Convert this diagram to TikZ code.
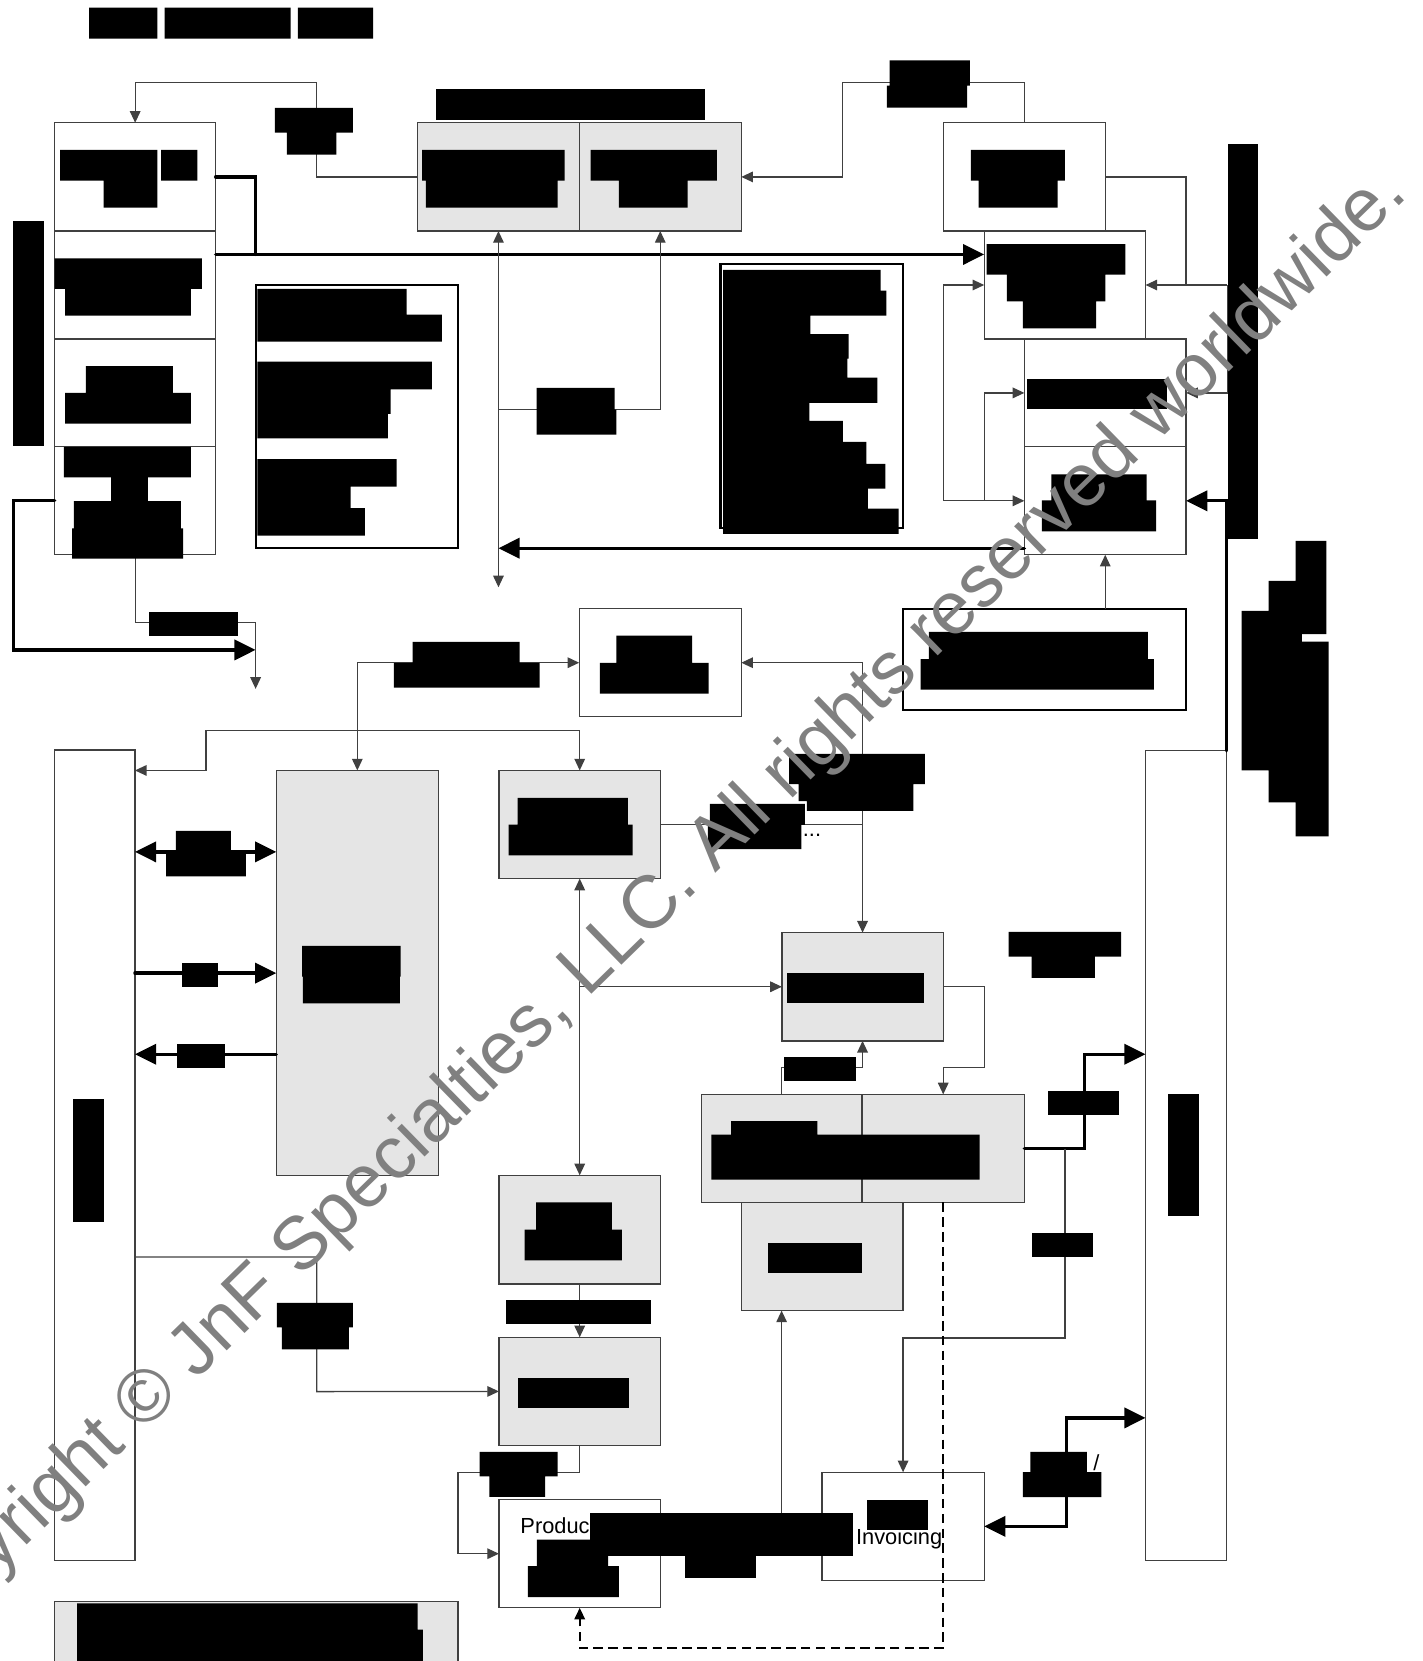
\documentclass[tikz,border=0pt]{standalone}
\usepackage{fontspec}
\setmainfont{Liberation Sans}
\usetikzlibrary{arrows.meta, fit}

\tikzset{
  box/.style={draw=black!75, line width=0.6pt, inner sep=0pt, outer sep=0pt},
  greybox/.style={box, fill=black!10},
  framed/.style={box, draw=black, line width=1pt},
  redact/.style={fill=black},
  wire/.style={draw=black!75, line width=0.6pt},
  link/.style={wire, -{Triangle[length=5.5pt,width=5pt]}},
  link2/.style={wire, {Triangle[length=5.5pt,width=5pt]}-{Triangle[length=5.5pt,width=5pt]}},
  dashlink/.style={draw=black, line width=0.9pt, dash pattern=on 4.5pt off 2.5pt, -{Triangle[length=5.5pt,width=5pt]}},
  heavyline/.style={draw=black, line width=1.6pt, line cap=round},
  heavy/.style={heavyline, -{Triangle[length=10pt,width=9.5pt]}},
  heavy2/.style={heavyline, {Triangle[length=10pt,width=9.5pt]}-{Triangle[length=10pt,width=9.5pt]}},
  lbl/.style={inner sep=0pt, font=\fontsize{10.3pt}{12pt}\selectfont},
  watermark/.style={inner sep=0pt, text=black!50, font=\fontsize{35.2pt}{42pt}\selectfont}
}

\begin{document}
\begin{tikzpicture}[x=0.5pt, y=-0.5pt]
  \useasboundingbox (0,0) rectangle (1343,1568);

  % boxes, top part
  \node[box, fit={(51.6,115.9) (203.6,218.1)}] (L1) {};
  \node[box, fit={(51.6,218.1) (203.6,320)}] (L2) {};
  \node[box, fit={(51.6,320) (203.6,421.5)}] (L3) {};
  \node[box, fit={(51.6,421.5) (203.6,523.7)}] (L4) {};
  \node[greybox, fit={(394.3,115.9) (546.8,218.1)}] (G1) {};
  \node[greybox, fit={(546.8,115.9) (699.8,218.1)}] (G2) {};
  \node[box, fit={(890.4,115.9) (1043.5,218.1)}] (R1) {};
  \node[box, fit={(929.1,218.1) (1081.4,320)}] (R2) {};
  \node[box, fit={(967,320) (1119.7,421.8)}] (R3) {};
  \node[box, fit={(967,421.8) (1119.7,523.7)}] (R4) {};
  \node[framed, fit={(241.3,268.7) (432.4,517.5)}] (listA) {};
  \node[framed, fit={(680.2,249.2) (852.8,498.6)}] (listB) {};
  \node[redact, inner sep=0pt, fit={(1158.9,135.8) (1188,508.5)}] (bar) {};

  % boxes, lower part
  \node[framed, fit={(852.1,574.5) (1119.7,670.5)}] (src) {};
  \node[box, fit={(546.8,574.5) (699.8,676.7)}] (M1) {};
  \node[box, fit={(51.6,708.1) (127.4,1472.8)}] (colL) {};
  \node[box, fit={(1081.4,708.8) (1158,1472.8)}] (colR) {};
  \node[greybox, fit={(260.8,727.3) (413.8,1110)}] (tall) {};
  \node[greybox, fit={(471,727.3) (623.5,829.4)}] (M2) {};
  \node[greybox, fit={(738.1,880.4) (890.4,982.6)}] (M3) {};
  \node[greybox, fit={(661.9,1033.1) (813.8,1135)}] (M4a) {};
  \node[greybox, fit={(813.8,1033.1) (967,1135)}] (M4b) {};
  \node[greybox, fit={(699.8,1135) (852.5,1237.2)}] (M8) {};
  \node[greybox, fit={(471,1109.5) (623.5,1212)}] (M5) {};
  \node[greybox, fit={(471,1262.4) (623.5,1364.6)}] (M6) {};
  \node[box, fit={(471,1415.6) (623.5,1517.8)}] (M7) {};
  \node[box, fit={(775.9,1389.8) (929.1,1492)}] (inv) {};
  \node[greybox, fit={(51.6,1511.5) (432.4,1590)}] (foot) {};

  % connectors, top part
  \draw[link] (G1.west) -| (299,77.6) -| (L1.north);
  \coordinate (k2) at (203.6,240.2);
  \draw[heavyline] (L1.east) -| (241.3,240.2);
  \draw[heavy] (k2) -- (k2 -| R2.west);
  \draw[link2] (G1.south |- 0,554.4) -- (G1.south);
  \draw[link] (G1.south |- 0,386.8) -| (G2.south);
  \draw[link] (R1.north) |- (795.5,77.6) |- (G2.east);
  \draw[link] (R1.east) -| (R2.east -| R3.east) -- (R2.east);
  \draw[wire] (R2.east -| R3.east) -- (R2.east -| bar.west);
  \draw[link] (R2.east -| bar.west) |- (R3.east);
  \draw[heavy] (colR.north east) |- (R4.east);
  \draw[link] (R1.west |- R4.west) |- (R2.west);
  \draw[link] (R2.west |- R4.west) |- (R3.west);
  \draw[link] (R1.west |- R4.west) -- (R4.west);
  \coordinate (k9) at (967,517.5);
  \draw[heavy] (k9) -- (k9 -| G1.south);
  \draw[link] (R4.south |- src.north) -- (R4.south);
  \coordinate (drop) at (241.3,650.3);
  \draw[heavy] (L4.west) -| (13,613.5) -- (drop |- 0,613.5);
  \draw[link] (L4.south) |- (drop |- 0,587.5) -- (drop);

  % connectors, lower part
  \draw[link] (tall.north |- M1.west) -- (M1.west);
  \draw[link] (tall.north |- M1.west) -- (tall.north);
  \coordinate (k13) at (194.5,689.3);
  \draw[link] (k13) -| (M2.north);
  \draw[link] (k13) |- (colL.east |- tall.north);
  \draw[link] (M3.north |- M1.east) -- (M1.east);
  \draw[link] (M3.north |- M1.east) -- (M3.north);
  \draw[wire] (M2.east) -- (M3.north |- M2.east);
  \draw[link2] (M2.south) -- (M5.north);
  \draw[link] (M2.south |- M3.west) -- (M3.west);
  \draw[link] (M3.east) -| (929.1,1007.9) -| (M4b.north);
  \draw[link] (M4a.north) |- (M3.south |- 0,1007.9) -- (M3.south);
  \draw[heavy] (M4b.east) -| (1024,995.2) -- (colR.west |- 0,995.2);
  \draw[link] (1005.3,1084.4) |- (inv.north |- 0,1263) -- (inv.north);
  \draw[link] (M4a.north |- 0,1428.2) -- (M4a.north |- M8.south);
  \draw[dashlink] (M4b.south) |- (M7.south |- 0,1555.6) -- (M7.south);
  \draw[link] (M5.south) -- (M6.north);
  \draw[link] (colL.east |- 0,1186.6) -| (299,1313.7) -- (M6.west);
  \draw[link] (M6.south) |- (432.4,1389.8) |- (M7.west);
  \draw[heavy2] (inv.east) -| (1006.6,1338.5) -- (colR.west |- 0,1338.5);
  \draw[heavy2] (colL.east |- 0,804.2) -- (tall.west |- 0,804.2);
  \draw[heavy] (colL.east |- tall.west) -- (tall.west);
  \draw[heavy] (tall.west |- 0,995.2) -- (colL.east |- 0,995.2);

  % redacted texts, top part
  \fill[redact] (84.1,7.2) rectangle (148.6,36.5) (155.5,7.2) rectangle (274.3,36.5)
    (281.2,7.2) rectangle (352.3,36.5);
  \fill[redact] (259.5,101.8) rectangle (333.2,125.3) (270.8,125.3) rectangle (317.6,145.9);
  \fill[redact] (411.6,84.1) rectangle (665.1,113);
  \fill[redact] (12.1,208.7) rectangle (41.6,420.7);
  \fill[redact] (56.8,141.6) rectangle (148.6,170.5) (152.1,141.6) rectangle (186.3,170.5)
    (97.9,167.9) rectangle (148.6,196.1);
  \fill[redact] (51.6,243.8) rectangle (190.6,272.7) (61.5,272.7) rectangle (180.2,297.9);
  \fill[redact] (81,345.6) rectangle (163.3,370.9) (61.5,370.9) rectangle (180.2,399.8);
  \fill[redact] (60.2,421.8) rectangle (180.2,450.7) (104.9,450.7) rectangle (139.5,473.1)
    (69.8,473.1) rectangle (170.7,498.7) (68,498.7) rectangle (172.9,527.3);
  \fill[redact] (398.6,141.6) rectangle (532.9,170.5) (402.1,170.5) rectangle (526.4,196.1);
  \fill[redact] (557.6,141.6) rectangle (676.7,170.5) (584.1,170.5) rectangle (649,196.1);
  \fill[redact] (243,272.7) rectangle (383.9,296.9) (243,296.9) rectangle (417.2,322.5)
    (243,341.3) rectangle (407.7,367.6) (243,367.6) rectangle (368.7,390.8)
    (243,390.8) rectangle (366.1,413.9) (243,433.4) rectangle (374.4,459.4)
    (243,459.4) rectangle (331,479.6) (243,479.6) rectangle (344.5,505.6);
  \fill[redact] (506.5,366.2) rectangle (580.2,386.8) (506.5,386.8) rectangle (581.9,410.3);
  \fill[redact] (839.9,57.1) rectangle (915.6,80.9) (837.3,80.9) rectangle (913,101.5);
  \fill[redact] (916.5,141.6) rectangle (1005.3,170.5) (923.9,170.5) rectangle (998.3,196.1);
  \fill[redact] (931.3,230.4) rectangle (1062.3,259.3) (950.4,259.3) rectangle (1043.5,284.6)
    (965.6,284.6) rectangle (1034.8,309.9);
  \fill[redact] (969.6,357.5) rectangle (1101.4,386.4);
  \fill[redact] (992.6,447.8) rectangle (1082.3,472.4) (983.5,472.4) rectangle (1091.4,501.6);
  \fill[redact] (682.6,254.8) rectangle (831.4,274.3) (682.6,274.3) rectangle (836.8,297.9)
    (682.6,297.9) rectangle (765.1,315.5) (682.6,315.5) rectangle (801.2,338.5)
    (682.6,338.5) rectangle (800,356.4) (682.6,356.4) rectangle (828.3,380.3)
    (682.6,380.3) rectangle (764.1,397.3) (682.6,397.3) rectangle (795.6,417.1)
    (682.6,417.1) rectangle (817.9,437.9) (682.6,437.9) rectangle (835.9,461.2)
    (682.6,461.2) rectangle (819.2,480.1) (682.6,480.1) rectangle (848.4,504);

  % redacted texts, lower part
  \fill[redact] (140.4,577.7) rectangle (224.4,600.8);
  \fill[redact] (389.5,605.9) rectangle (490.5,625.8) (371.8,625.8) rectangle (509.5,649.2);
  \fill[redact] (581.9,600.1) rectangle (653.4,625.8) (566.3,625.8) rectangle (669,654.7);
  \fill[redact] (876.9,596.5) rectangle (1083.6,622.2) (869,622.2) rectangle (1089.2,651);
  \fill[redact] (1223.1,510.6) rectangle (1252.1,598.6) (1197.6,548.3) rectangle (1229,757.5)
    (1172.1,576.6) rectangle (1197.6,727.3) (1223.1,605.6) rectangle (1254.2,789.6);
  \fill[redact] (744.9,711.6) rectangle (873,740.2) (753.8,740.2) rectangle (862.3,756.3)
    (761.6,756.3) rectangle (862.3,765.4);
  \fill[redact] (670.1,758.8) rectangle (759.7,778.6) (668.2,778.6) rectangle (756.6,801.6);
  \fill[redact] (488.7,753.3) rectangle (592.7,778.5) (480.1,778.5) rectangle (597.1,807.4);
  \fill[redact] (285.1,893) rectangle (378.3,921.9) (286,921.9) rectangle (377.4,947.2);
  \fill[redact] (166,784.3) rectangle (217.9,804.2) (156.8,804.2) rectangle (232.2,827.3);
  \fill[redact] (171.6,908.9) rectangle (205.8,932);
  \fill[redact] (166.8,985.5) rectangle (212.3,1008.6);
  \fill[redact] (952.2,879.7) rectangle (1058.4,903.1) (973.9,903.1) rectangle (1033.5,923);
  \fill[redact] (742.8,918.3) rectangle (872.1,947.2);
  \fill[redact] (739.8,997.7) rectangle (807.7,1020.5);
  \fill[redact] (690.2,1058.4) rectangle (771.6,1071) (671.5,1071) rectangle (924.7,1113.6);
  \fill[redact] (989.1,1029.5) rectangle (1056.6,1053);
  \fill[redact] (1102.3,1032.4) rectangle (1131.4,1148.2);
  \fill[redact] (68.9,1037.8) rectangle (97.9,1153.6);
  \fill[redact] (506.1,1135) rectangle (577.6,1160.8) (495.2,1160.8) rectangle (587.1,1189.7);
  \fill[redact] (724.6,1173) rectangle (813.4,1202);
  \fill[redact] (973.9,1164) rectangle (1031.8,1186.6);
  \fill[redact] (477.5,1226.9) rectangle (614.4,1250.1);
  \fill[redact] (261.3,1230) rectangle (333.2,1253) (266,1253) rectangle (329.3,1273.7);
  \fill[redact] (488.7,1300.5) rectangle (593.6,1329.4);
  \fill[redact] (452.8,1370.6) rectangle (526.4,1393.6) (461.9,1393.6) rectangle (514.7,1413.1);
  \fill[redact] (556.8,1428.2) rectangle (805.5,1469.1);
  \fill[redact] (506.9,1453.3) rectangle (574.1,1478.5) (498.3,1478.5) rectangle (584.1,1507.8);
  \fill[redact] (646.5,1466) rectangle (714.1,1489.5);
  \fill[redact] (818.6,1415.6) rectangle (875.6,1444.5);
  \fill[redact] (972.6,1370.6) rectangle (1026.1,1389.8) (965.7,1389.8) rectangle (1039.6,1413.4);
  \fill[redact] (72.8,1513.7) rectangle (394.3,1538.3) (72.8,1538.3) rectangle (399.1,1570);

  % visible texts
  \node[lbl, anchor=base west] (prod) at (490.9,1448) {Produc};
  \node[lbl] (invtxt) at (848.8,1453) {Invoicing};
  \node[lbl] (slash) at (1035,1381) {/};
  \node[lbl] (dots) at (766.5,789) {...};

  \node[watermark, rotate=44.3] (wm) at (605,868)
    {Copyright © JnF Specialties, LLC. All rights reserved worldwide.};
\end{tikzpicture}
\end{document}
